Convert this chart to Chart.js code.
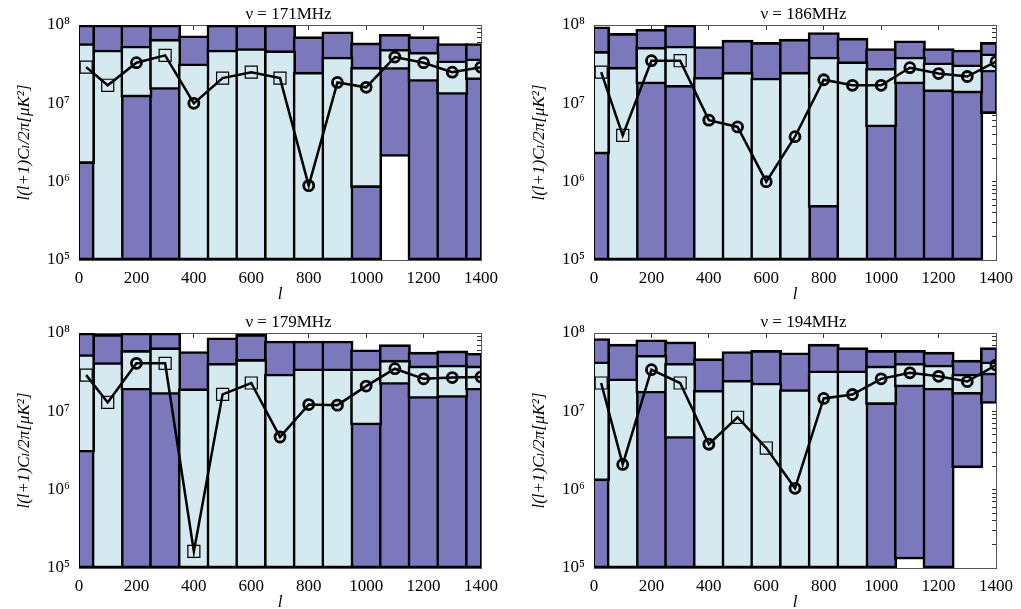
<!DOCTYPE html>
<html>
<head>
<meta charset="utf-8">
<script src="https://cdn.jsdelivr.net/npm/chart.js@4.4.1/dist/chart.umd.min.js"></script>
<style>
  html, body { margin: 0; padding: 0; background: #fff; }
  body { width: 1021px; height: 609px; position: relative; overflow: hidden; }
  canvas { position: absolute; }
</style>
</head>
<body>
<canvas id="p171" width="506" height="305" style="left:0;top:0"></canvas>
<canvas id="p186" width="506" height="305" style="left:515px;top:0"></canvas>
<canvas id="p179" width="506" height="301" style="left:0;top:308px"></canvas>
<canvas id="p194" width="506" height="301" style="left:515px;top:308px"></canvas>
<script>
// bins in l, and where the points sit
const BIN_EDGES = [0, 50, 150, 250, 350, 450, 550, 650, 750, 850, 950, 1050, 1150, 1250, 1350, 1400];
const POINT_L = [25, 100, 200, 300, 400, 500, 600, 700, 800, 900, 1000, 1100, 1200, 1300, 1400];
const DECADES = [1e5, 1e6, 1e7, 1e8];

// 171 MHz
const OUTER_LO_171 = [1e5, 1e5, 1e5, 1e5, 1e5, 1e5, 1e5, 1e5, 1e5, 1e5, 1e5, 2.1e6, 1e5, 1e5, 1e5];
const OUTER_HI_171 = [1e8, 1e8, 1e8, 1e8, 7.3e7, 1e8, 1e8, 1e8, 7.1e7, 8.2e7, 5.9e7, 7.6e7, 7.1e7, 5.8e7, 5.8e7];
const INNER_LO_171 = [1.7e6, 1e5, 1.2e7, 1.5e7, 1e5, 1e5, 1e5, 1e5, 1e5, 1e5, 8.4e5, 2.7e7, 1.9e7, 1.3e7, 2.0e7];
const INNER_HI_171 = [5.8e7, 4.8e7, 5.4e7, 6.6e7, 3.2e7, 4.8e7, 5.0e7, 4.7e7, 2.5e7, 3.9e7, 2.9e7, 4.9e7, 4.5e7, 3.5e7, 3.7e7];
const POINT_171 = [2.9e7, 1.7e7, 3.3e7, 4.1e7, 1.0e7, 2.1e7, 2.5e7, 2.1e7, 8.9e5, 1.85e7, 1.6e7, 3.9e7, 3.3e7, 2.5e7, 2.9e7];
const MARK_171 = ['s', 's', 'c', 's', 'c', 's', 's', 's', 'c', 'c', 'c', 'c', 'c', 'c', 'c'];

// 186 MHz
const OUTER_LO_186 = [1e5, 1e5, 1e5, 1e5, 1e5, 1e5, 1e5, 1e5, 1e5, 1e5, 1e5, 1e5, 1e5, 1e5, 7.4e6];
const OUTER_HI_186 = [9.5e7, 7.8e7, 8.8e7, 1e8, 5.3e7, 6.4e7, 6.0e7, 6.6e7, 8.0e7, 6.8e7, 5.0e7, 6.3e7, 5.0e7, 4.8e7, 6.0e7];
const INNER_LO_186 = [2.25e6, 1e5, 1.77e7, 1.6e7, 1e5, 1e5, 1e5, 1e5, 4.7e5, 1e5, 5.0e6, 1.77e7, 1.4e7, 1.35e7, 2.5e7];
const INNER_HI_186 = [4.6e7, 2.9e7, 5.2e7, 5.4e7, 2.15e7, 2.5e7, 2.1e7, 2.5e7, 3.9e7, 3.4e7, 2.8e7, 3.9e7, 3.3e7, 3.1e7, 4.3e7];
const POINT_186 = [2.5e7, 3.9e6, 3.5e7, 3.5e7, 6.1e6, 5.0e6, 1.0e6, 3.75e6, 2.0e7, 1.7e7, 1.7e7, 2.85e7, 2.4e7, 2.2e7, 3.4e7];
const MARK_186 = ['s', 's', 'c', 's', 'c', 'c', 'c', 'c', 'c', 'c', 'c', 'c', 'c', 'c', 'c'];

// 179 MHz
const OUTER_LO_179 = [1e5, 1e5, 1e5, 1e5, 1e5, 1e5, 1e5, 1e5, 1e5, 1e5, 1e5, 1e5, 1e5, 1e5, 1e5];
const OUTER_HI_179 = [1e8, 9.6e7, 1e8, 1e8, 5.8e7, 8.7e7, 9.6e7, 7.9e7, 7.9e7, 7.9e7, 6.1e7, 7.1e7, 5.7e7, 5.9e7, 5.5e7];
const INNER_LO_179 = [3.0e6, 1e5, 1.86e7, 1.64e7, 1e5, 1e5, 1e5, 1e5, 1e5, 1e5, 6.7e6, 2.2e7, 1.46e7, 1.5e7, 1.86e7];
const INNER_HI_179 = [5.3e7, 4.2e7, 6.0e7, 6.5e7, 1.95e7, 4.1e7, 4.6e7, 3.0e7, 3.5e7, 3.5e7, 3.5e7, 4.5e7, 3.8e7, 3.9e7, 3.8e7];
const POINT_179 = [2.9e7, 1.3e7, 4.1e7, 4.1e7, 1.63e5, 1.65e7, 2.3e7, 4.7e6, 1.22e7, 1.2e7, 2.1e7, 3.5e7, 2.6e7, 2.7e7, 2.75e7];
const MARK_179 = ['s', 's', 'c', 's', 's', 's', 's', 'c', 'c', 'c', 'c', 'c', 'c', 'c', 'c'];

// 194 MHz
const OUTER_LO_194 = [1e5, 1e5, 1e5, 1e5, 1e5, 1e5, 1e5, 1e5, 1e5, 1e5, 1e5, 1.3e5, 1e5, 1.9e6, 1.26e7];
const OUTER_HI_194 = [8.5e7, 7.2e7, 8.2e7, 7.7e7, 4.7e7, 5.8e7, 6.0e7, 5.6e7, 7.2e7, 6.5e7, 6.0e7, 6.0e7, 5.7e7, 4.5e7, 6.5e7];
const INNER_LO_194 = [1.3e6, 1e5, 1.7e7, 4.5e6, 1e5, 1e5, 1e5, 1e5, 1e5, 1e5, 1.22e7, 2.05e7, 1.86e7, 1.65e7, 2.9e7];
const INNER_HI_194 = [4.3e7, 2.6e7, 5.2e7, 4.1e7, 1.86e7, 2.5e7, 2.3e7, 1.9e7, 3.3e7, 3.3e7, 3.8e7, 4.1e7, 3.9e7, 3.0e7, 4.3e7];
const POINT_194 = [2.3e7, 2.1e6, 3.4e7, 2.3e7, 3.8e6, 8.4e6, 3.4e6, 1.04e6, 1.46e7, 1.64e7, 2.6e7, 3.1e7, 2.8e7, 2.4e7, 3.9e7];
const MARK_194 = ['s', 'c', 'c', 's', 'c', 's', 's', 'c', 'c', 'c', 'c', 'c', 'c', 'c', 'c'];

const SERIF = "'Liberation Serif', 'DejaVu Serif', serif";
const DARK = '#7b79bb';
const LIGHT = '#d5eaf0';
const FRAME = '#555';
const BW = 2.6; // bar outline
const SUP = { 5: '\u2075', 6: '\u2076', 7: '\u2077', 8: '\u2078' };

// one bar dataset per bin width (the two end bins are half width)
function barSets(lo, hi, color, order) {
  const byWidth = {};
  for (let i = 0; i < BIN_EDGES.length - 1; i++) {
    const a = BIN_EDGES[i], b = BIN_EDGES[i + 1];
    const w = b - a;
    (byWidth[w] = byWidth[w] || []).push({ x: (a + b) / 2, y: [lo[i], hi[i]] });
  }
  return Object.keys(byWidth).map(w => ({
    type: 'bar',
    data: byWidth[w],
    binWidth: +w,
    backgroundColor: color,
    borderColor: '#000',
    borderWidth: BW,
    borderSkipped: false,
    grouped: false,
    order: order
  }));
}

function makePanel(id, title, outerLo, outerHi, innerLo, innerHi, points, marks) {
  const canvas = document.getElementById(id);
  const bottomH = canvas.height - 260;   // space under the plot for labels
  const xTitlePad = bottomH > 42 ? 1.5 : -2.5;

  const chart = new Chart(canvas, {
    type: 'bar',
    data: {
      datasets: [
        {
          type: 'line',
          order: 0,
          data: POINT_L.map((l, i) => ({ x: l, y: points[i] })),
          borderColor: '#000',
          borderWidth: 2.5,
          tension: 0,
          pointStyle: marks.map(m => m === 's' ? 'rect' : 'circle'),
          pointRadius: marks.map(m => m === 's' ? 8.5 : 5),
          pointBorderWidth: marks.map(m => m === 's' ? 1.2 : 2.8),
          pointBackgroundColor: 'rgba(0,0,0,0)',
          pointBorderColor: '#000'
        },
        ...barSets(innerLo, innerHi, LIGHT, 1),
        ...barSets(outerLo, outerHi, DARK, 2)
      ]
    },
    options: {
      responsive: false,
      animation: false,
      events: [],
      layout: { padding: 0 },
      plugins: {
        legend: { display: false },
        tooltip: { enabled: false }
      },
      scales: {
        x: {
          type: 'linear',
          position: 'bottom',
          min: 0,
          max: 1400,
          offset: false,
          grid: { drawOnChartArea: false, drawTicks: false, offset: false },
          border: { color: FRAME, width: 1 },
          ticks: {
            stepSize: 200,
            autoSkip: false,
            maxRotation: 0,
            padding: 8,
            color: '#000',
            font: { family: SERIF, size: 17 },
            callback: v => String(v)
          },
          title: {
            display: true,
            text: 'l',
            color: '#000',
            font: { family: SERIF, size: 17, style: 'italic', lineHeight: 1 },
            padding: { top: 0, bottom: xTitlePad }
          },
          afterFit: s => { s.height = bottomH; }
        },
        x2: {
          type: 'linear',
          position: 'top',
          min: 0,
          max: 1400,
          offset: false,
          grid: { drawOnChartArea: false, offset: false, tickLength: -5, color: '#333', tickColor: '#333' },
          border: { color: FRAME, width: 1 },
          ticks: { display: false, stepSize: 200 },
          title: {
            display: true,
            text: '\u2003' + title,
            color: '#000',
            font: { family: SERIF, size: 17, lineHeight: 1 },
            padding: { top: 6, bottom: 0 }
          },
          afterFit: s => { s.height = 25; }
        },
        y: {
          type: 'logarithmic',
          position: 'left',
          min: 1e5,
          max: 1e8,
          beginAtZero: false,
          grid: { drawOnChartArea: false, drawTicks: false },
          border: { color: FRAME, width: 1 },
          afterBuildTicks: s => { s.ticks = DECADES.map(v => ({ value: v, major: true })); },
          ticks: {
            autoSkip: false,
            padding: 9,
            color: '#000',
            font: { family: SERIF, size: 17 },
            callback: v => '10' + SUP[Math.round(Math.log10(v))]
          },
          title: {
            display: true,
            text: 'l(l+1)C\u2097/2\u03c0[\u03bcK\u00b2]',
            color: '#000',
            font: { family: SERIF, size: 17, style: 'italic', lineHeight: 1 },
            padding: { top: 16, bottom: 0 }
          },
          afterFit: s => { s.width = 79; }
        },
        y2: {
          type: 'logarithmic',
          position: 'right',
          min: 1e5,
          max: 1e8,
          beginAtZero: false,
          grid: { drawOnChartArea: false, tickLength: -4, color: '#333', tickColor: '#333' },
          border: { color: FRAME, width: 1 },
          afterBuildTicks: s => {
            const t = [];
            DECADES.slice(0, -1).forEach(d => {
              for (let m = 1; m < 10; m++) t.push({ value: d * m });
            });
            t.push({ value: 1e8 });
            s.ticks = t;
          },
          ticks: { display: false },
          afterFit: s => { s.width = 20; }
        }
      }
    }
  });

  // bars get their width from the x scale, then redraw
  const xs = chart.scales.x;
  const unit = xs.getPixelForValue(100) - xs.getPixelForValue(0);
  chart.data.datasets.forEach(ds => {
    if (ds.binWidth) ds.barThickness = ds.binWidth / 100 * unit + BW;
  });
  chart.update();
  return chart;
}

makePanel('p171', '\u03bd = 171MHz', OUTER_LO_171, OUTER_HI_171, INNER_LO_171, INNER_HI_171, POINT_171, MARK_171);
makePanel('p186', '\u03bd = 186MHz', OUTER_LO_186, OUTER_HI_186, INNER_LO_186, INNER_HI_186, POINT_186, MARK_186);
makePanel('p179', '\u03bd = 179MHz', OUTER_LO_179, OUTER_HI_179, INNER_LO_179, INNER_HI_179, POINT_179, MARK_179);
makePanel('p194', '\u03bd = 194MHz', OUTER_LO_194, OUTER_HI_194, INNER_LO_194, INNER_HI_194, POINT_194, MARK_194);
</script>
</body>
</html>
